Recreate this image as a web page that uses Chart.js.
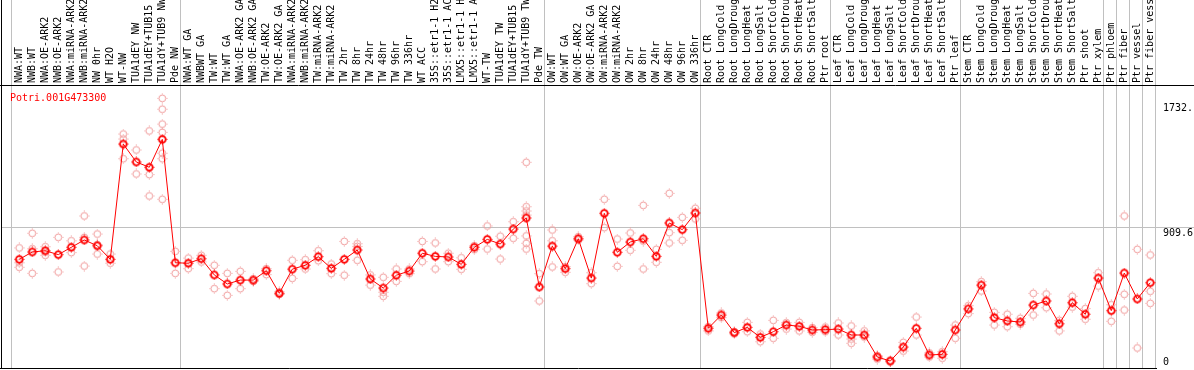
<!DOCTYPE html>
<html>
<head>
<meta charset="utf-8">
<script src="https://cdn.jsdelivr.net/npm/chart.js@4.4.1/dist/chart.umd.min.js"></script>
<style>
  html, body { margin: 0; padding: 0; background: #fff; }
  canvas { display: block; }
</style>
</head>
<body>
<canvas id="chart" width="1194" height="370"></canvas>
<script>
// --- data ---
const geneName = 'Potri.001G473300';

const categories = [
  'NWA:WT', 'NWB:WT', 'NWA:OE-ARK2', 'NWB:OE-ARK2', 'NWA:miRNA-ARK2', 'NWB:miRNA-ARK2',
  'NW 0hr', 'WT H2O', 'WT-NW', 'TUA1dEY NW', 'TUA1dEY+TUB15', 'TUA1dY+TUB9 NW', 'Pde NW',
  'NWA:WT GA', 'NWBWT GA', 'TW:WT', 'TW:WT GA', 'NWA:OE-ARK2 GA', 'NWB:OE-ARK2 GA',
  'TW:OE-ARK2', 'TW:OE-ARK2 GA', 'NWA:miRNA-ARK2', 'NWB:miRNA-ARK2', 'TW:miRNA-ARK2',
  'TW:miRNA-ARK2', 'TW 2hr', 'TW 8hr', 'TW 24hr', 'TW 48hr', 'TW 96hr', 'TW 336hr', 'WT ACC',
  '35S::etr1-1 H2', '35S::etr1-1 AC', 'LMX5::etr1-1 H', 'LMX5::etr1-1 A', 'WT-TW',
  'TUA1dEY TW', 'TUA1dEY+TUB15', 'TUA1dY+TUB9 TW', 'Pde TW',
  'OW:WT', 'OW:WT GA', 'OW:OE-ARK2', 'OW:OE-ARK2 GA', 'OW:miRNA-ARK2', 'OW:miRNA-ARK2',
  'OW 2hr', 'OW 8hr', 'OW 24hr', 'OW 48hr', 'OW 96hr', 'OW 336hr',
  'Root CTR', 'Root LongCold', 'Root LongDroug', 'Root LongHeat', 'Root LongSalt',
  'Root ShortCold', 'Root ShortDrou', 'Root ShortHeat', 'Root ShortSalt', 'Ptr root',
  'Leaf CTR', 'Leaf LongCold', 'Leaf LongDroug', 'Leaf LongHeat', 'Leaf LongSalt',
  'Leaf ShortCold', 'Leaf ShortDrou', 'Leaf ShortHeat', 'Leaf ShortSalt', 'Ptr leaf',
  'Stem CTR', 'Stem LongCold', 'Stem LongDroug', 'Stem LongHeat', 'Stem LongSalt',
  'Stem ShortCold', 'Stem ShortDrou', 'Stem ShortHeat', 'Stem ShortSalt', 'Ptr shoot',
  'Ptr xylem', 'Ptr phloem', 'Ptr fiber', 'Ptr vessel', 'Ptr fiber vess'
];

const meanValues = [
  703, 750, 758, 733, 780, 827, 790, 703, 1442, 1327, 1293, 1472, 681,
  678, 707, 603, 545, 570, 570, 630, 485, 640, 665, 720, 645, 703, 763, 577, 519, 601, 628,
  742, 722, 718, 671, 780, 831, 801, 897, 968, 526,
  788, 643, 835, 583, 998, 748, 814, 835, 722, 936, 893, 1000,
  261, 346, 233, 267, 203, 239, 282, 274, 250, 252,
  256, 218, 218, 77, 51, 141, 261, 90, 94, 250,
  385, 538, 329, 308, 301, 410, 436, 290, 425, 351,
  583, 374, 615, 449, 553
];

const replicateValues = [
  [776, 681, 652], [870, 771, 613], [784, 750, 729], [844, 622], [822, 746],
  [981, 844, 660], [865, 797, 737], [737, 678], [1506, 1474, 1348], [1404, 1250],
  [1526, 1246, 1109], [1735, 1665, 1570, 1517, 1383, 1348, 1088], [754, 613],
  [711, 643], [729, 686], [665, 515], [613, 472], [626, 515], [578, 562], [643, 605],
  [495, 478], [697, 581], [701, 641], [758, 694], [673, 611], [818, 601], [803, 786, 697],
  [603, 538], [588, 492, 466], [641, 562], [641, 611], [818, 688], [808, 641], [742, 688],
  [713, 639], [790, 765], [917, 769], [851, 705], [944, 838],
  [1325, 1040, 1013, 987, 853, 806, 769], [611, 436],
  [891, 822, 654], [656, 620], [848, 827], [617, 547], [1088, 906], [833, 658], [872, 761],
  [1049, 820, 641], [767, 684], [1126, 874, 808], [972, 825], [1030, 962],
  [271, 244], [359, 329], [240, 226], [299, 239], [224, 175], [312, 197], [297, 256],
  [299, 244], [265, 235], [269, 239],
  [295, 218], [276, 192, 165], [244, 205], [85, 64], [56, 46], [171, 115], [333, 218],
  [103, 77], [111, 69], [282, 197],
  [406, 355], [560, 500], [363, 282], [351, 271], [325, 287], [485, 346], [481, 393],
  [312, 244], [466, 397], [387, 319],
  [617, 532], [412, 306], [981, 479, 378], [767, 135], [731, 498, 421]
];

const yTickValues = [0, 909.6, 1732];
const yTickLabels = ['0', '909.6', '1732.'];
// separator lines sit just after these category indexes
const groupBreaks = [-1, 12, 40, 52, 62, 72, 83, 84, 85, 86, 87];

// --- chart ---
const RED = '#ff0000';
const PINK = '#f09c9c';
const GRID = '#c0c0c0';
const FONT = '10px "DejaVu Sans Mono", monospace';

function makeMarker(color, lw) {
    const c = document.createElement('canvas');
    c.width = 11;
    c.height = 11;
    const g = c.getContext('2d');
    g.strokeStyle = color;
    g.fillStyle = color;
    g.lineWidth = lw;
    g.beginPath();
    g.arc(5.5, 5.5, 3.4, 0, Math.PI * 2);
    g.stroke();
    // little ticks round the ring
    g.fillRect(5, 0.5, 1, 1);
    g.fillRect(5, 9.5, 1, 1);
    g.fillRect(0.5, 5, 1, 1);
    g.fillRect(9.5, 5, 1, 1);
    return c;
}

const meanPoints = meanValues.map((v, i) => ({ x: i, y: v }));
const repPoints = [];
replicateValues.forEach((reps, i) => {
    reps.forEach(v => repPoints.push({ x: i, y: v }));
});

const framePlugin = {
    id: 'frame',
    beforeDatasetsDraw(chart) {
        const { ctx, chartArea, scales } = chart;
        const W = chart.width;
        ctx.save();
        ctx.strokeStyle = GRID;
        ctx.lineWidth = 1;
        // group separators, full height
        groupBreaks.forEach(k => {
            const x = Math.round(scales.x.getPixelForValue(k + 0.4)) + 0.5;
            ctx.beginPath();
            ctx.moveTo(x, 0);
            ctx.lineTo(x, chartArea.bottom);
            ctx.stroke();
        });
        // middle value line
        const ym = Math.round(scales.y.getPixelForValue(yTickValues[1])) + 0.5;
        ctx.beginPath();
        ctx.moveTo(chartArea.left, ym);
        ctx.lineTo(W, ym);
        ctx.stroke();
        ctx.restore();
    },
    afterDraw(chart) {
        const { ctx, chartArea, scales } = chart;
        const W = chart.width;
        ctx.save();
        ctx.strokeStyle = '#000';
        ctx.lineWidth = 1;
        ctx.beginPath();
        ctx.moveTo(1.5, 0);
        ctx.lineTo(1.5, chartArea.bottom);
        ctx.moveTo(0, chartArea.top + 0.5);
        ctx.lineTo(W, chartArea.top + 0.5);
        ctx.moveTo(0, chartArea.bottom - 0.5);
        ctx.lineTo(chartArea.right + 1, chartArea.bottom - 0.5);
        ctx.stroke();

        ctx.font = FONT;
        ctx.fillStyle = '#000';
        // category names, rotated, reading upwards
        ctx.textAlign = 'left';
        ctx.textBaseline = 'middle';
        categories.forEach((name, i) => {
            const x = scales.x.getPixelForValue(i);
            ctx.save();
            ctx.translate(x, chartArea.top - 2);
            ctx.rotate(-Math.PI / 2);
            ctx.fillText(name, 0, 0);
            ctx.restore();
        });

        // value labels on the right
        ctx.textBaseline = 'top';
        yTickValues.forEach((v, i) => {
            let y = scales.y.getPixelForValue(v) + 1;
            if (i === yTickValues.length - 1) y += 4;
            y = Math.min(y, chartArea.bottom - 12);
            ctx.fillText(yTickLabels[i], chartArea.right + 7, y);
        });

        // gene name
        ctx.fillStyle = RED;
        ctx.fillText(geneName, 10, chartArea.top + 8);
        ctx.restore();
    }
};

new Chart(document.getElementById('chart'), {
    type: 'scatter',
    data: {
        datasets: [
            {
                type: 'line',
                label: 'mean',
                data: meanPoints,
                borderColor: RED,
                borderWidth: 1,
                tension: 0,
                fill: false,
                pointStyle: makeMarker(RED, 1.8),
                pointRadius: 4
            },
            {
                label: 'replicates',
                data: repPoints,
                pointStyle: makeMarker(PINK, 1),
                pointRadius: 4
            }
        ]
    },
    options: {
        responsive: false,
        animation: false,
        devicePixelRatio: 1,
        layout: { autoPadding: false, padding: { left: 2, right: 38, top: 85, bottom: 1 } },
        scales: {
            x: { type: 'linear', display: false, min: -1.33, max: 87.44 },
            y: { type: 'linear', display: false, min: 0, max: 1820.4 }
        },
        plugins: {
            legend: { display: false },
            tooltip: { enabled: false }
        }
    },
    plugins: [framePlugin]
});
</script>
</body>
</html>
